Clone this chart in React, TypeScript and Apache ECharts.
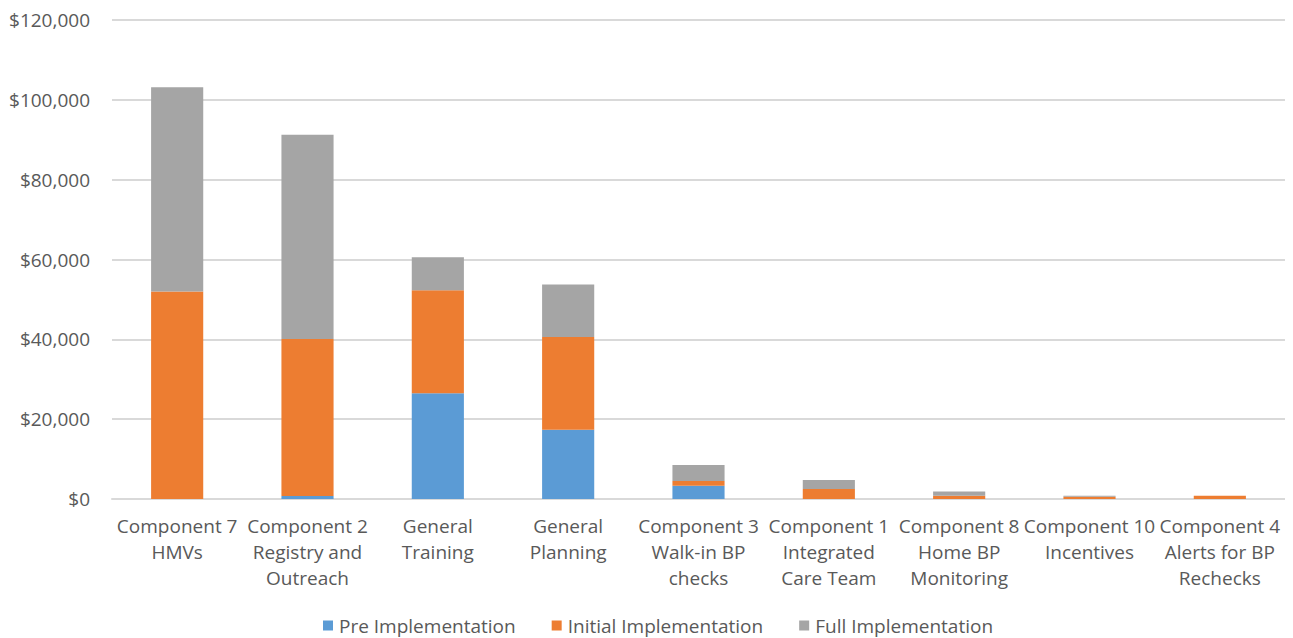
import React, { useEffect, useRef } from "react";
import * as echarts from "echarts";

const categories = [
  "Component 7\nHMVs",
  "Component 2\nRegistry and\nOutreach",
  "General\nTraining",
  "General\nPlanning",
  "Component 3\nWalk-in BP\nchecks",
  "Component 1\nIntegrated\nCare Team",
  "Component 8\nHome BP\nMonitoring",
  "Component 10\nIncentives",
  "Component 4\nAlerts for BP\nRechecks",
];

const preImplementation = [0, 750, 26470, 17370, 3330, 0, 0, 0, 0];
const initialImplementation = [51970, 39350, 25830, 23240, 1180, 2500, 830, 580, 820];
const fullImplementation = [51200, 51150, 8270, 13120, 4010, 2260, 1070, 250, 0];

const seriesNames = ["Pre Implementation", "Initial Implementation", "Full Implementation"];
const seriesColors = ["#5b9bd5", "#ed7d31", "#a5a5a5"];

const FONT = "'Open Sans', sans-serif";
const TEXT = "#595959";

export default function App() {
  const ref = useRef<HTMLDivElement>(null);

  useEffect(() => {
    if (!ref.current) return;
    const chart = echarts.init(ref.current, undefined, { renderer: "svg" });
    const data = [preImplementation, initialImplementation, fullImplementation];
    chart.setOption({
      animation: false,
      textStyle: { fontFamily: FONT },
      grid: { left: 112, right: 8, top: 20, bottom: 139, containLabel: false },
      legend: {
        bottom: -2,
        left: 318,
        itemWidth: 10,
        itemHeight: 10,
        itemGap: 36,
        icon: "rect",
        textStyle: { color: TEXT, fontSize: 19, fontFamily: FONT, padding: [0, 0, 0, 1] },
        data: seriesNames,
      },
      xAxis: {
        type: "category",
        data: categories,
        axisLine: { show: true, lineStyle: { color: "#d9d9d9", width: 2 } },
        axisTick: { show: false },
        axisLabel: {
          interval: 0,
          color: TEXT,
          fontSize: 19,
          lineHeight: 26,
          margin: 14,
          fontFamily: FONT,
        },
      },
      yAxis: {
        type: "value",
        min: 0,
        max: 120000,
        interval: 20000,
        axisLine: { show: false },
        axisTick: { show: false },
        splitLine: { lineStyle: { color: "#d9d9d9", width: 2 } },
        axisLabel: {
          color: TEXT,
          fontSize: 19,
          margin: 22,
          fontFamily: FONT,
          formatter: (v: number) => "$" + v.toLocaleString("en-US"),
        },
      },
      series: seriesNames.map((name, i) => ({
        name,
        type: "bar",
        stack: "total",
        barWidth: "40%",
        itemStyle: { color: seriesColors[i] },
        data: data[i],
      })),
    });
    return () => chart.dispose();
  }, []);

  return <div ref={ref} style={{ width: 1293, height: 638, marginLeft: -8, marginTop: -8 }} />;
}
